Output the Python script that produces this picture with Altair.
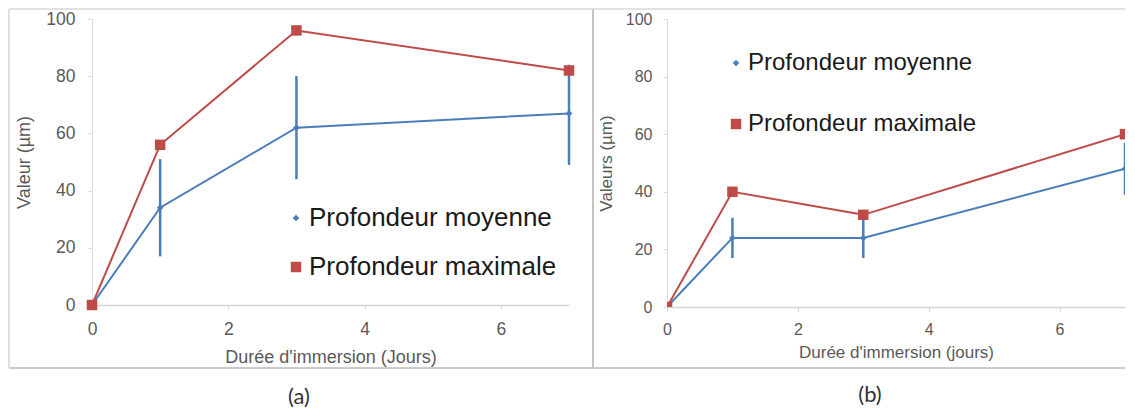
import altair as alt
import pandas as pd

# ---------------- data ----------------
jours = [0, 1, 3, 7]
series = ["Profondeur moyenne", "Profondeur maximale"]

a_moy = [0, 34, 62, 67]
a_moy_lo = [0, 17, 44, 49]
a_moy_hi = [0, 51, 80, 84]
a_max = [0, 56, 96, 82]

b_moy = [0, 24, 24, 48]
b_moy_lo = [0, 17, 17, 39]
b_moy_hi = [0, 31, 31, 57]
b_max = [0, 40, 32, 60]

x_ticks = [0, 2, 4, 6]
y_ticks = [0, 20, 40, 60, 80, 100]

BLUE = "#4a7ebb"
RED = "#be4b48"
FONT = "Arial"


def make_df(moy, lo, hi, mx):
    rows = []
    for j, m, l, h in zip(jours, moy, lo, hi):
        rows.append({"jour": j, "serie": series[0], "valeur": m, "lo": l, "hi": h})
    for j, m in zip(jours, mx):
        rows.append({"jour": j, "serie": series[1], "valeur": m, "lo": m, "hi": m})
    return pd.DataFrame(rows)


def panel(df, w, h, xtitle, ytitle, lab_fs, title_fs, xtp, ytp, xlp, ylp,
          leg_x, leg_y, leg_fs, leg_row, clip, caption, cap_x, cap_y):
    xs = alt.Scale(domain=[0, 7], nice=False)
    ys = alt.Scale(domain=[0, 100], nice=False)
    xax = alt.Axis(values=x_ticks, format="d", grid=False, title=xtitle, titleFont=FONT,
                   titleFontSize=title_fs, titleFontWeight="normal", titleColor="#595959",
                   labelFont=FONT, labelFontSize=lab_fs, labelColor="#595959",
                   labelFlush=False, labelOverlap=False,
                   domainColor="#d4d4d4", domainWidth=1.5, tickColor="#d4d4d4",
                   tickSize=4, labelPadding=xlp, titlePadding=xtp)
    yax = alt.Axis(values=y_ticks, format="d", grid=False, title=ytitle, titleFont=FONT,
                   titleFontSize=title_fs, titleFontWeight="normal", titleColor="#595959",
                   labelFont=FONT, labelFontSize=lab_fs, labelColor="#595959",
                   labelFlush=False, labelOverlap=False,
                   domainColor="#dcdcdc", domainWidth=1, tickColor="#dcdcdc",
                   tickSize=4, labelPadding=ylp, titlePadding=ytp)
    base = alt.Chart(df).encode(
        x=alt.X("jour:Q", scale=xs, axis=xax),
        y=alt.Y("valeur:Q", scale=ys, axis=yax),
    )
    err = alt.Chart(df).transform_filter(
        alt.datum.serie == series[0]
    ).mark_rule(color=BLUE, strokeWidth=2.5, clip=clip).encode(
        x=alt.X("jour:Q", scale=xs),
        y=alt.Y("lo:Q", scale=ys),
        y2="hi:Q",
    )
    line_moy = base.transform_filter(alt.datum.serie == series[0]).mark_line(
        strokeWidth=2, color=BLUE, clip=clip)
    line_max = base.transform_filter(alt.datum.serie == series[1]).mark_line(
        strokeWidth=2, color=RED, clip=clip)
    pts = base.mark_point(filled=True, opacity=1, clip=clip).encode(
        color=alt.Color(
            "serie:N", scale=alt.Scale(domain=series, range=[BLUE, RED]),
            legend=alt.Legend(orient="none", legendX=leg_x, legendY=leg_y, title=None,
                              labelFont=FONT, labelFontSize=leg_fs, labelColor="#1a1a1a",
                              labelOffset=0, rowPadding=leg_row, labelLimit=0,
                              padding=0, symbolStrokeWidth=0),
        ),
        shape=alt.Shape("serie:N", scale=alt.Scale(domain=series, range=["diamond", "square"])),
        size=alt.Size("serie:N", scale=alt.Scale(domain=series, range=[45, 110])),
    )
    one = pd.DataFrame({"k": [0]})
    cap = alt.Chart(one).mark_text(font="Lato", fontSize=22, color="#333333",
                                   baseline="middle", align="center").encode(
        x=alt.value(cap_x), y=alt.value(cap_y), text=alt.value(caption))
    return alt.layer(err, line_moy, line_max, pts, cap).properties(width=w, height=h)


pa = panel(make_df(a_moy, a_moy_lo, a_moy_hi, a_max), 477, 286,
           "Durée d'immersion (Jours)", "Valeur (µm)", 17.5, 18, 11, 12, 11, 13,
           191, 186, 26, 23, False, "(a)", 207, 378)
pb = panel(make_df(b_moy, b_moy_lo, b_moy_hi, b_max), 458, 288,
           "Durée d'immersion (jours)", "Valeurs (µm)", 16, 17, 7, 10, 10, 11,
           57, 32, 24, 37, True, "(b)", 203, 376)

# decorative frame (drawn in panel a's coordinates)
one = pd.DataFrame({"k": [0]})
frame = [
    alt.Chart(one).mark_rule(color="#d6d6d6", strokeWidth=1.5).encode(
        x=alt.value(-83), y=alt.value(-10), y2=alt.value(349)),
    alt.Chart(one).mark_rule(color="#d9d9d9", strokeWidth=1.5).encode(
        x=alt.value(-83), x2=alt.value(1033), y=alt.value(-10)),
    alt.Chart(one).mark_rule(color="#cccccc", strokeWidth=2).encode(
        x=alt.value(-83), x2=alt.value(1033), y=alt.value(349)),
    alt.Chart(one).mark_rule(color="#c4c4c4", strokeWidth=2).encode(
        x=alt.value(501), y=alt.value(-10), y2=alt.value(349)),
]
pa = alt.layer(*frame, pa)

chart = alt.hconcat(pa, pb, spacing=98, bounds="flush").resolve_scale(
    color="independent", shape="independent", size="independent", x="independent", y="independent"
).resolve_legend(
    color="independent", shape="independent", size="independent"
).properties(
    padding=0, background="white"
).configure_view(stroke=None)

chart.save("out.html", embed_options={"renderer": "svg", "actions": False})
